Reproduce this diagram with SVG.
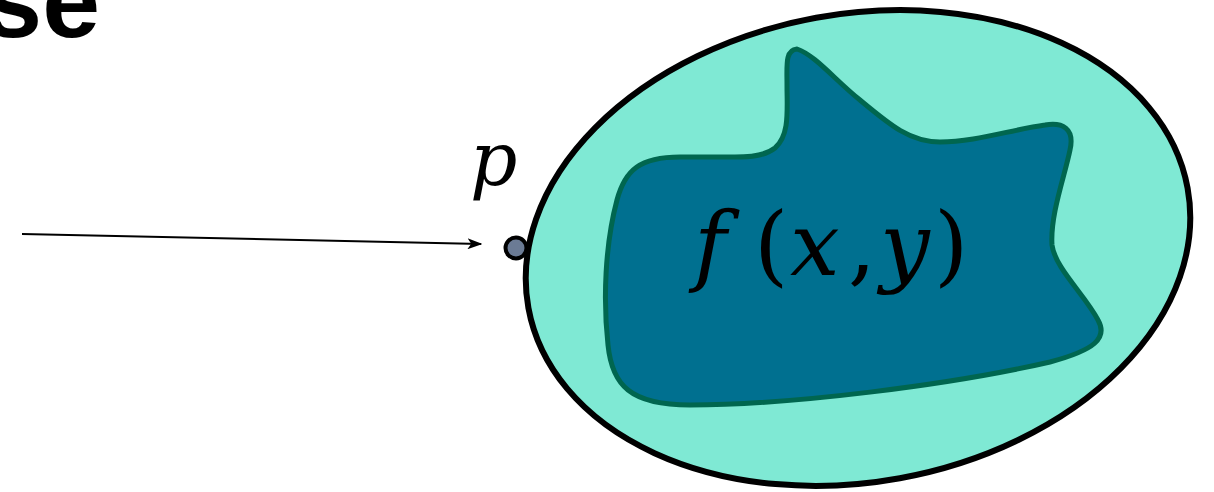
<svg xmlns="http://www.w3.org/2000/svg" width="1214" height="492" viewBox="0 0 1214 492">
  <style>
    .title { font-family: "Liberation Sans", Arial, sans-serif; font-weight: bold; font-size: 104px; fill: #000; }
    .math { font-family: "DejaVu Serif", "Liberation Serif", serif; fill: #000; }
    .it { font-style: italic; }
    .conn { stroke: #000; stroke-width: 2; fill: none; }
  </style>
  <defs>
    <marker id="arrow" viewBox="0 0 10 10" refX="9" refY="5" markerWidth="15" markerHeight="11" markerUnits="userSpaceOnUse" orient="auto" preserveAspectRatio="none">
      <path d="M0,0 L10,5 L0,10 L2.5,5 Z" fill="#000"/>
    </marker>
  </defs>
  <rect width="1214" height="492" fill="#fff"/>
  <text class="title" x="100" y="37" text-anchor="end">se</text>

  <g id="domain">
    <ellipse cx="858" cy="248" rx="335" ry="234" transform="rotate(-10.3 858 248)" fill="#7fe9d4" stroke="#000" stroke-width="6"/>
  </g>

  <g id="region">
    <path d="M797,49 C785,50 787,65 787,85 C787,110 790,135 775,148 C765,156 750,157 735,157 L680,157 C640,157 625,170 617,200 C605,245 603,300 608,345 C612,385 630,405 690,405 C790,405 950,385 1050,362 C1095,350 1108,338 1098,320 C1085,295 1055,268 1052,245 C1050,215 1065,175 1070,150 C1075,128 1062,122 1045,125 C1010,130 975,142 940,142 C910,142 890,125 860,100 C835,80 815,55 797,49 Z" fill="#007090" stroke="#00664f" stroke-width="5" stroke-linejoin="round"/>
    <text class="math" y="275" font-size="88"><tspan class="it" x="694">f</tspan><tspan x="754">(</tspan><tspan class="it" x="790">x</tspan><tspan x="848">,</tspan><tspan class="it" x="880">y</tspan><tspan x="934">)</tspan></text>
  </g>

  <g id="point-p">
    <circle cx="516" cy="248" r="10.5" fill="#6b7b95" stroke="#000" stroke-width="4"/>
    <text class="math it" x="470" y="185" font-size="74">p</text>
  </g>

  <g id="connectors">
    <line class="conn" x1="22" y1="234" x2="481" y2="244" marker-end="url(#arrow)"/>
  </g>
</svg>
